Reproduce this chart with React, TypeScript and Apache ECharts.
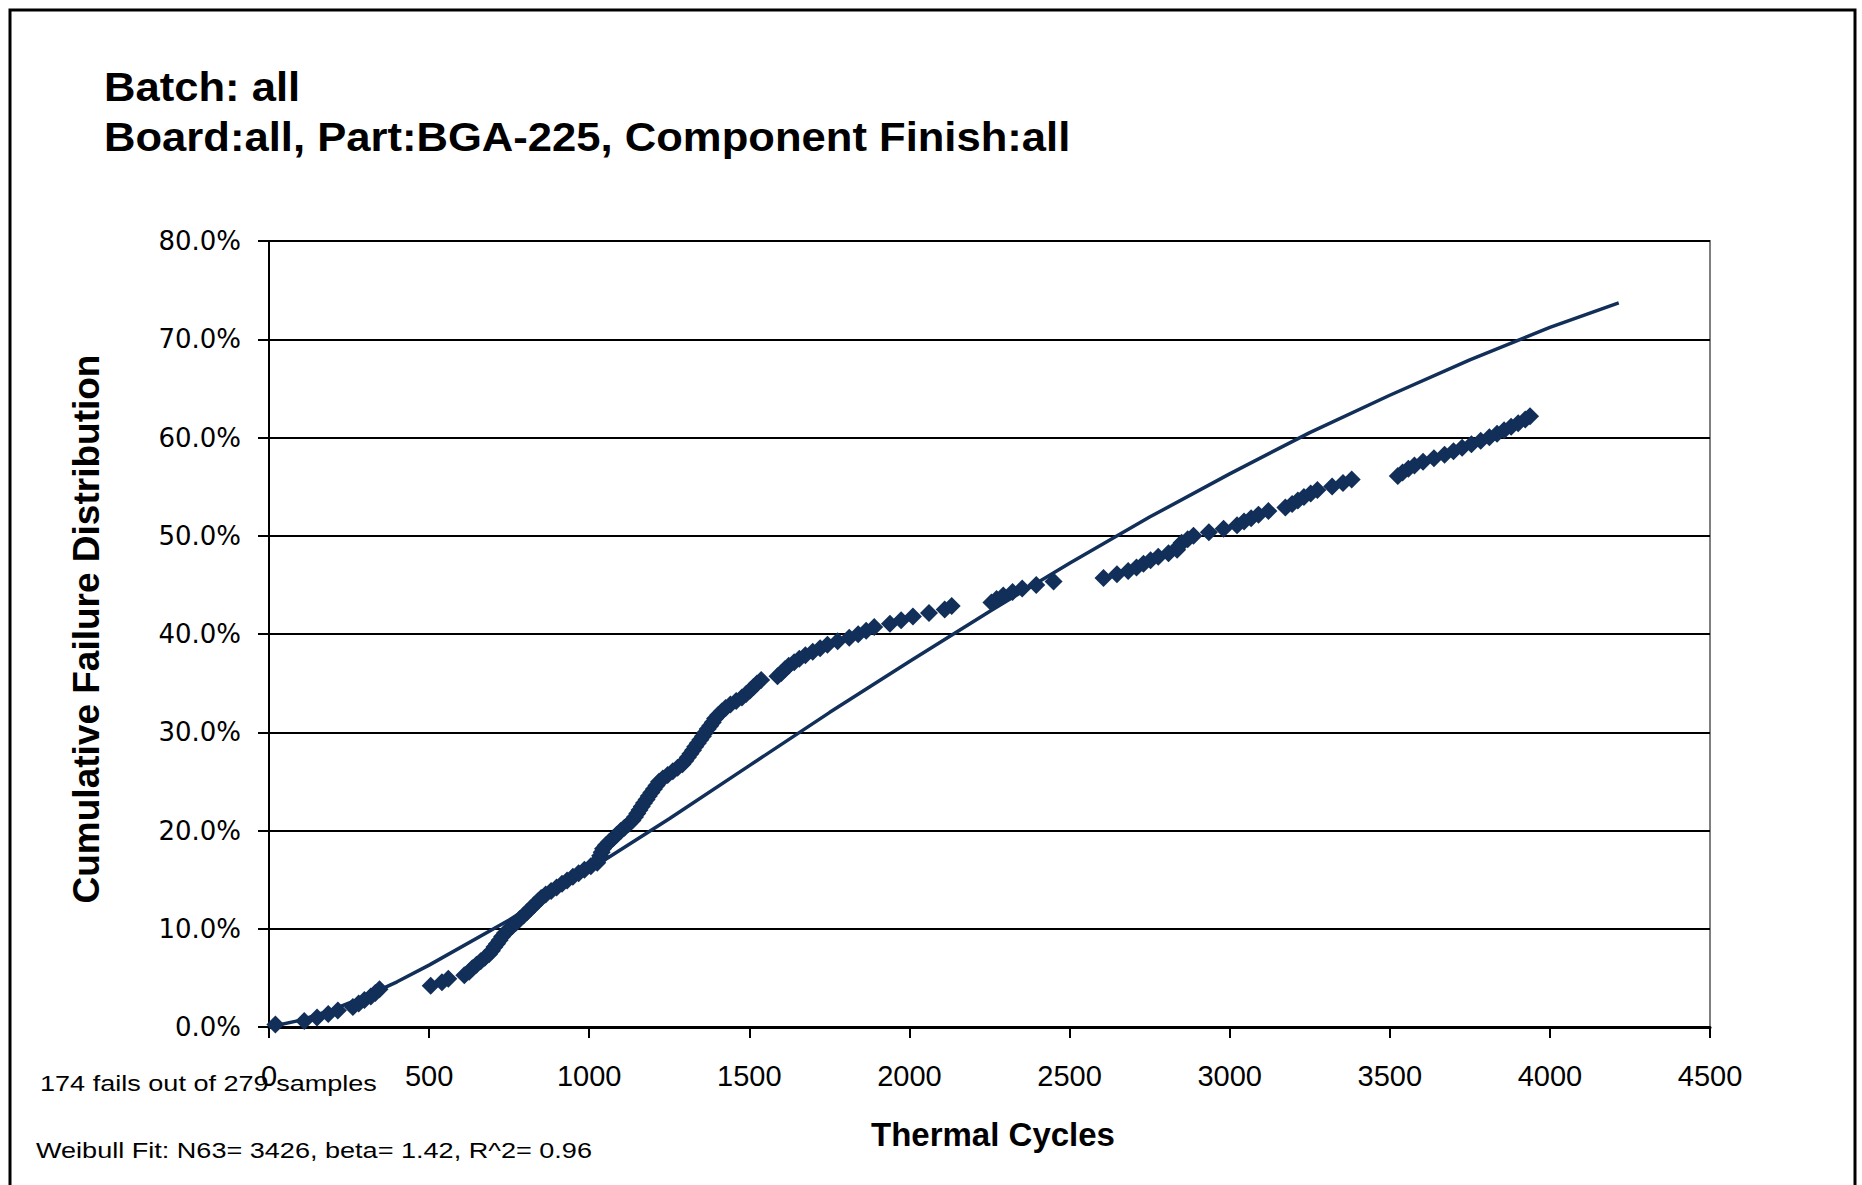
import React, { useEffect, useRef } from "react";
import * as echarts from "echarts";

// Observed failures: [thermal cycles, cumulative failure %]
const failurePoints: [number, number][] = [
  [20, 0.25], [110, 0.61], [150, 0.97], [185, 1.32], [215, 1.68], [262, 2.04],
  [280, 2.4], [298, 2.76], [318, 3.11], [332, 3.47], [345, 3.83], [505, 4.19],
  [540, 4.55], [560, 4.9], [610, 5.26], [625, 5.62], [635, 5.98], [648, 6.34],
  [661, 6.69], [674, 7.05], [687, 7.41], [696, 7.77], [704, 8.13], [712, 8.48],
  [720, 8.84], [728, 9.2], [737, 9.56], [748, 9.91], [760, 10.27], [772, 10.63],
  [783, 10.99], [795, 11.35], [806, 11.7], [817, 12.06], [828, 12.42], [839, 12.78],
  [850, 13.14], [864, 13.49], [881, 13.85], [898, 14.21], [915, 14.57], [931, 14.92],
  [949, 15.28], [967, 15.64], [985, 16.0], [1005, 16.36], [1025, 16.72], [1030, 17.07],
  [1034, 17.43], [1039, 17.79], [1043, 18.15], [1052, 18.51], [1063, 18.86], [1075, 19.22],
  [1086, 19.58], [1098, 19.94], [1110, 20.29], [1123, 20.65], [1135, 21.01], [1143, 21.37],
  [1150, 21.73], [1157, 22.08], [1164, 22.44], [1171, 22.8], [1179, 23.16], [1186, 23.51],
  [1194, 23.87], [1202, 24.23], [1210, 24.59], [1218, 24.95], [1230, 25.3], [1245, 25.66],
  [1261, 26.02], [1276, 26.38], [1291, 26.74], [1300, 27.09], [1308, 27.45], [1316, 27.81],
  [1324, 28.17], [1331, 28.53], [1339, 28.88], [1347, 29.24], [1355, 29.6], [1362, 29.96],
  [1370, 30.32], [1378, 30.67], [1386, 31.03], [1393, 31.39], [1403, 31.75], [1414, 32.11],
  [1426, 32.46], [1441, 32.82], [1459, 33.18], [1477, 33.54], [1490, 33.9], [1502, 34.25],
  [1513, 34.61], [1524, 34.97], [1537, 35.33], [1588, 35.69], [1600, 36.04], [1611, 36.4],
  [1623, 36.76], [1640, 37.12], [1656, 37.47], [1675, 37.83], [1698, 38.19], [1721, 38.55],
  [1744, 38.91], [1776, 39.26], [1812, 39.62], [1840, 39.98], [1865, 40.34], [1890, 40.7],
  [1939, 41.05], [1974, 41.41], [2011, 41.77], [2061, 42.13], [2110, 42.49], [2132, 42.84],
  [2256, 43.2], [2272, 43.56], [2293, 43.92], [2322, 44.27], [2352, 44.63], [2396, 44.99],
  [2450, 45.35], [2606, 45.71], [2648, 46.07], [2683, 46.42], [2709, 46.78], [2731, 47.14],
  [2753, 47.5], [2777, 47.86], [2809, 48.21], [2836, 48.57], [2841, 48.93], [2850, 49.29],
  [2869, 49.65], [2887, 50.0], [2935, 50.36], [2981, 50.72], [3023, 51.08], [3045, 51.44],
  [3067, 51.79], [3090, 52.15], [3121, 52.51], [3174, 52.87], [3195, 53.23], [3213, 53.58],
  [3232, 53.94], [3253, 54.3], [3274, 54.66], [3320, 55.02], [3354, 55.37], [3381, 55.73],
  [3525, 56.09], [3540, 56.45], [3558, 56.81], [3577, 57.16], [3604, 57.52], [3638, 57.88],
  [3671, 58.24], [3699, 58.6], [3726, 58.95], [3755, 59.31], [3784, 59.67], [3811, 60.03],
  [3835, 60.39], [3857, 60.74], [3879, 61.1], [3901, 61.46], [3923, 61.82], [3938, 62.17],
];

// Weibull fit curve (N63 = 3426, beta = 1.42): [thermal cycles, cumulative %]
const weibullFit: [number, number][] = [
  [0, 0], [100, 0.7], [200, 1.8], [300, 3.1], [400, 4.6], [500, 6.3],
  [750, 10.9], [1000, 16.0], [1250, 21.2], [1500, 26.6], [1750, 32.0], [2000, 37.2],
  [2250, 42.3], [2500, 47.2], [2750, 51.9], [3000, 56.3], [3250, 60.5], [3500, 64.3],
  [3750, 67.9], [4000, 71.2], [4215, 73.7],
];

const titleLines = ["Batch: all", "Board:all, Part:BGA-225, Component Finish:all"];
const sampleNote = "174 fails out of 279 samples";
const fitNote = "Weibull Fit: N63= 3426, beta= 1.42, R^2= 0.96";
const xAxisTitle = "Thermal Cycles";
const yAxisTitle = "Cumulative Failure Distribution";

const NAVY = "#112f58";
const FONT = "Liberation Sans, Arial, sans-serif";
const WIDE_FONT = "DejaVu Sans, Liberation Sans, sans-serif";

export default function App() {
  const ref = useRef<HTMLDivElement>(null);

  useEffect(() => {
    if (!ref.current) return;
    const chart = echarts.init(ref.current, null, { renderer: "svg" });
    chart.setOption({
      animation: false,
      backgroundColor: "#ffffff",
      grid: {
        left: 269,
        right: 152,
        top: 241,
        bottom: 158,
        show: true,
        borderColor: "#7f7f7f",
        borderWidth: 2,
        backgroundColor: "transparent",
      },
      xAxis: {
        type: "value",
        min: 0,
        max: 4500,
        interval: 500,
        axisLine: { show: true, lineStyle: { color: "#000", width: 3 } },
        axisTick: { show: true, inside: false, length: 11, lineStyle: { color: "#000", width: 2 } },
        splitLine: { show: false },
        axisLabel: {
          color: "#000",
          fontFamily: FONT,
          fontSize: 29,
          margin: 34,
          formatter: (v: number) => String(v),
        },
      },
      yAxis: {
        type: "value",
        min: 0,
        max: 80,
        interval: 10,
        axisLine: { show: true, lineStyle: { color: "#000", width: 2 } },
        axisTick: { show: true, inside: false, length: 11, lineStyle: { color: "#000", width: 2 } },
        splitLine: { show: true, lineStyle: { color: "#000", width: 2 } },
        axisLabel: {
          color: "#000",
          fontFamily: WIDE_FONT,
          fontSize: 26,
          margin: 28,
          formatter: (v: number) => `${v.toFixed(1)}%`,
        },
      },
      series: [
        {
          type: "line",
          data: weibullFit,
          showSymbol: false,
          smooth: false,
          lineStyle: { color: NAVY, width: 3.5 },
          z: 3,
        },
        {
          type: "scatter",
          data: failurePoints,
          symbol: "diamond",
          symbolSize: 18,
          itemStyle: { color: NAVY, opacity: 1 },
          z: 4,
        },
      ],
      graphic: [
        {
          type: "rect",
          shape: { x: 10, y: 10, width: 1845, height: 1200 },
          style: { fill: "none", stroke: "#000", lineWidth: 3 },
          silent: true,
        },
        {
          type: "text",
          x: 104,
          y: 87,
          scaleX: 1.09,
          style: {
            text: titleLines[0],
            font: `bold 40px ${FONT}`,
            fill: "#000",
            textVerticalAlign: "middle",
          },
        },
        {
          type: "text",
          x: 104,
          y: 137,
          scaleX: 1.09,
          style: {
            text: titleLines[1],
            font: `bold 40px ${FONT}`,
            fill: "#000",
            textVerticalAlign: "middle",
          },
        },
        {
          type: "text",
          x: 86,
          y: 629,
          rotation: Math.PI / 2,
          style: {
            text: yAxisTitle,
            font: `bold 37px ${FONT}`,
            fill: "#000",
            textAlign: "center",
            textVerticalAlign: "middle",
          },
        },
        {
          type: "text",
          x: 993,
          y: 1134,
          style: {
            text: xAxisTitle,
            font: `bold 33px ${FONT}`,
            fill: "#000",
            textAlign: "center",
            textVerticalAlign: "middle",
          },
        },
        {
          type: "text",
          x: 40,
          y: 1083,
          scaleX: 1.23,
          style: {
            text: sampleNote,
            font: `22px ${FONT}`,
            fill: "#000",
            textVerticalAlign: "middle",
          },
        },
        {
          type: "text",
          x: 36,
          y: 1150,
          scaleX: 1.23,
          style: {
            text: fitNote,
            font: `22px ${FONT}`,
            fill: "#000",
            textVerticalAlign: "middle",
          },
        },
      ],
    });
    return () => chart.dispose();
  }, []);

  return (
    <div
      ref={ref}
      style={{ position: "fixed", left: 0, top: 0, width: 1862, height: 1185, background: "#fff" }}
    />
  );
}
